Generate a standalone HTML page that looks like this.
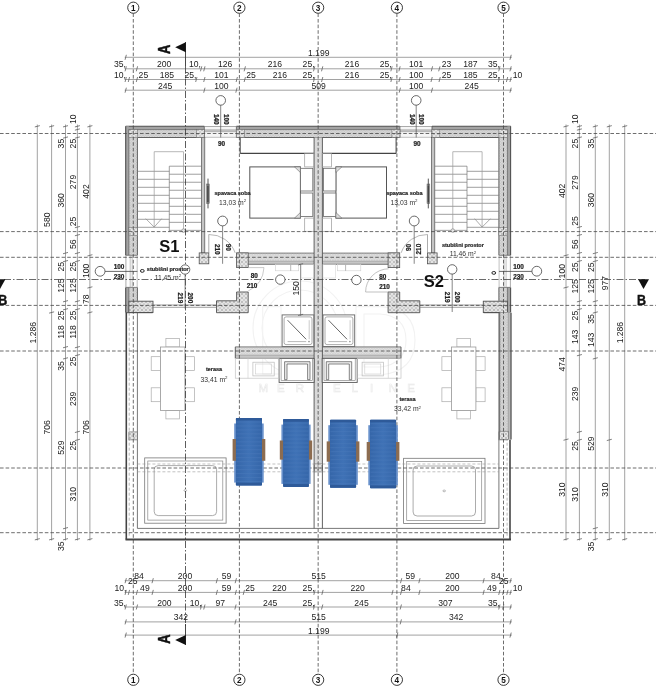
<!DOCTYPE html>
<html><head><meta charset="utf-8"><title>Floor plan</title>
<style>
html,body{margin:0;padding:0;background:#fff;}
body{width:656px;height:690px;overflow:hidden;font-size:0;line-height:0;}
svg{display:block;position:absolute;left:0;top:0;font-family:"Liberation Sans",sans-serif;will-change:transform;transform:translateZ(0);}
</style></head><body>
<svg width="656" height="690" viewBox="0 0 656 690">
<rect width="656" height="690" fill="#ffffff"/>
<defs>
<pattern id="h" width="2.6" height="2.6" patternUnits="userSpaceOnUse"><rect width="2.6" height="2.6" fill="#e0e0e0"/><path d="M0,0 L2.6,2.6 M2.6,0 L0,2.6" stroke="#c6c6c6" stroke-width="0.45"/></pattern>
<pattern id="ho" width="2.6" height="2.6" patternUnits="userSpaceOnUse"><rect width="2.6" height="2.6" fill="#d8d8d8"/><path d="M0,0 L2.6,2.6 M2.6,0 L0,2.6" stroke="#bcbcbc" stroke-width="0.45"/></pattern>
<pattern id="hx" width="4" height="4" patternUnits="userSpaceOnUse"><rect width="4" height="4" fill="#e4e4e4"/><path d="M0.4,0.4 L3.6,3.6 M3.6,0.4 L0.4,3.6" stroke="#9c9c9c" stroke-width="0.5"/></pattern>
<linearGradient id="lg" x1="0" x2="1" y1="0" y2="0"><stop offset="0" stop-color="#3566a9"/><stop offset="0.5" stop-color="#3f72b6"/><stop offset="1" stop-color="#3566a9"/></linearGradient>
</defs>
<g fill="none" stroke="#f2f2f2" stroke-width="1.1">
<circle cx="300" cy="328" r="47"/>
<circle cx="300" cy="328" r="38"/>
<path d="M262.7,306.6 L262.7,374 L281,374 L281,306.6 Z"/>
<path d="M356,306.6 L356,375 L380,375 Q415,372 415,340 Q415,308 380,306.6 Z"/>
<path d="M364,314 L364,367 L380,367 Q406,364 406,340 Q406,316 380,314 Z"/>
</g>
<text x="258.5" y="391.8" font-size="11.5" fill="none" stroke="#e9e9e9" stroke-width="0.6">M</text>
<text x="277.1" y="391.8" font-size="11.5" fill="none" stroke="#e9e9e9" stroke-width="0.6">E</text>
<text x="295.7" y="391.8" font-size="11.5" fill="none" stroke="#e9e9e9" stroke-width="0.6">R</text>
<text x="314.3" y="391.8" font-size="11.5" fill="none" stroke="#e9e9e9" stroke-width="0.6">K</text>
<text x="332.9" y="391.8" font-size="11.5" fill="none" stroke="#e9e9e9" stroke-width="0.6">E</text>
<text x="351.5" y="391.8" font-size="11.5" fill="none" stroke="#e9e9e9" stroke-width="0.6">L</text>
<text x="370.1" y="391.8" font-size="11.5" fill="none" stroke="#e9e9e9" stroke-width="0.6">I</text>
<text x="388.7" y="391.8" font-size="11.5" fill="none" stroke="#e9e9e9" stroke-width="0.6">N</text>
<text x="407.3" y="391.8" font-size="11.5" fill="none" stroke="#e9e9e9" stroke-width="0.6">E</text>
<rect x="125.7" y="126.3" width="78.6" height="11.2" fill="url(#ho)"/>
<rect x="236.4" y="126.3" width="163.4" height="11.2" fill="url(#ho)"/>
<rect x="431.9" y="126.3" width="78.8" height="11.2" fill="url(#ho)"/>
<rect x="125.7" y="126.3" width="11.7" height="129" fill="url(#ho)"/>
<rect x="125.7" y="287.4" width="11.7" height="25.2" fill="url(#ho)"/>
<rect x="498.9" y="126.3" width="11.7" height="129" fill="url(#ho)"/>
<rect x="498.9" y="287.4" width="11.7" height="25.2" fill="url(#ho)"/>
<rect x="125.7" y="126.3" width="78.6" height="3.3" fill="#a4a4a4"/>
<line x1="125.7" y1="126.3" x2="204.3" y2="126.3" stroke="#505050" stroke-width="1.1"/>
<line x1="128.9" y1="129.6" x2="204.3" y2="129.6" stroke="#505050" stroke-width="0.6"/>
<line x1="137.4" y1="137.5" x2="204.3" y2="137.5" stroke="#505050" stroke-width="0.9"/>
<rect x="236.4" y="126.3" width="163.4" height="3.3" fill="#a4a4a4"/>
<line x1="236.4" y1="126.3" x2="399.8" y2="126.3" stroke="#505050" stroke-width="1.1"/>
<line x1="236.4" y1="129.6" x2="399.8" y2="129.6" stroke="#505050" stroke-width="0.6"/>
<line x1="236.4" y1="137.5" x2="399.8" y2="137.5" stroke="#505050" stroke-width="0.9"/>
<rect x="431.9" y="126.3" width="78.8" height="3.3" fill="#a4a4a4"/>
<line x1="431.9" y1="126.3" x2="510.7" y2="126.3" stroke="#505050" stroke-width="1.1"/>
<line x1="431.9" y1="129.6" x2="507.4" y2="129.6" stroke="#505050" stroke-width="0.6"/>
<line x1="431.9" y1="137.5" x2="498.9" y2="137.5" stroke="#505050" stroke-width="0.9"/>
<rect x="125.7" y="126.3" width="3.2" height="129" fill="#a4a4a4"/>
<line x1="125.7" y1="126.3" x2="125.7" y2="255.3" stroke="#505050" stroke-width="1.1"/>
<line x1="128.9" y1="129.6" x2="128.9" y2="255.3" stroke="#505050" stroke-width="0.6"/>
<line x1="137.4" y1="137.5" x2="137.4" y2="255.3" stroke="#505050" stroke-width="0.9"/>
<rect x="125.7" y="287.4" width="3.2" height="25.2" fill="#a4a4a4"/>
<line x1="125.7" y1="287.4" x2="125.7" y2="312.6" stroke="#505050" stroke-width="1.1"/>
<line x1="128.9" y1="287.4" x2="128.9" y2="312.6" stroke="#505050" stroke-width="0.6"/>
<line x1="137.4" y1="287.4" x2="137.4" y2="300.8" stroke="#505050" stroke-width="0.9"/>
<rect x="125.7" y="255.3" width="11.7" height="32.1" fill="#fdfdfd"/>
<line x1="125.7" y1="255.3" x2="137.4" y2="255.3" stroke="#505050" stroke-width="0.7"/>
<line x1="125.7" y1="287.4" x2="137.4" y2="287.4" stroke="#505050" stroke-width="0.7"/>
<line x1="125.9" y1="255.3" x2="125.9" y2="287.4" stroke="#888" stroke-width="0.7"/>
<line x1="130.2" y1="255.3" x2="130.2" y2="287.4" stroke="#999" stroke-width="0.6"/>
<line x1="132.2" y1="255.3" x2="132.2" y2="287.4" stroke="#999" stroke-width="0.6"/>
<line x1="137.2" y1="255.3" x2="137.2" y2="287.4" stroke="#999" stroke-width="0.6"/>
<rect x="128.9" y="129.6" width="8.5" height="7.9" fill="url(#hx)" stroke="#666" stroke-width="0.5"/>
<rect x="128.9" y="227.6" width="8.5" height="8" fill="url(#hx)" stroke="#666" stroke-width="0.5"/>
<rect x="204.3" y="126.3" width="32.1" height="11.2" fill="#f6f6f6"/>
<line x1="204.3" y1="126.5" x2="236.4" y2="126.5" stroke="#888" stroke-width="0.7"/>
<rect x="204.3" y="129.8" width="32.1" height="1.9" fill="#c8c8c8"/>
<line x1="204.3" y1="129.8" x2="236.4" y2="129.8" stroke="#999" stroke-width="0.6"/>
<line x1="204.3" y1="131.7" x2="236.4" y2="131.7" stroke="#999" stroke-width="0.6"/>
<line x1="204.3" y1="137.3" x2="236.4" y2="137.3" stroke="#999" stroke-width="0.6"/>
<line x1="204.3" y1="126.3" x2="204.3" y2="137.5" stroke="#505050" stroke-width="0.8"/>
<line x1="236.4" y1="126.3" x2="236.4" y2="137.5" stroke="#505050" stroke-width="0.8"/>
<rect x="201.5" y="137.5" width="3.3" height="115.4" fill="#c4c4c4" stroke="#505050" stroke-width="0.7"/>
<rect x="199.2" y="252.9" width="9.6" height="10.9" fill="url(#hx)" stroke="#505050" stroke-width="0.8"/>
<rect x="196.5" y="129.6" width="7.8" height="7.9" fill="url(#hx)" stroke="#666" stroke-width="0.5"/>
<rect x="236.4" y="129.6" width="8" height="7.9" fill="url(#hx)" stroke="#666" stroke-width="0.5"/>
<rect x="236.6" y="253.1" width="77.5" height="11.2" fill="url(#h)"/>
<line x1="236.6" y1="253.1" x2="314.1" y2="253.1" stroke="#606060" stroke-width="0.8"/>
<rect x="248.2" y="261.2" width="65.9" height="3.1" fill="#c6c6c6"/>
<line x1="248.2" y1="261.2" x2="314.1" y2="261.2" stroke="#888" stroke-width="0.5"/>
<line x1="248.2" y1="264.3" x2="314.1" y2="264.3" stroke="#606060" stroke-width="0.8"/>
<rect x="236.6" y="252.9" width="11.6" height="14.7" fill="url(#hx)" stroke="#505050" stroke-width="0.8"/>
<path d="M236.6,292 L248.2,292 L248.2,312.7 L216.5,312.7 L216.5,300.8 L236.6,300.8 Z" fill="url(#hx)" stroke="#505050" stroke-width="0.9"/>
<rect x="128.9" y="301.2" width="24.1" height="11.3" fill="url(#hx)" stroke="#505050" stroke-width="0.9"/>
<line x1="125.7" y1="312.7" x2="152.7" y2="312.7" stroke="#505050" stroke-width="1.0"/>
<line x1="152.7" y1="305" x2="216.5" y2="305" stroke="#777" stroke-width="0.7"/>
<line x1="152.7" y1="307.3" x2="216.5" y2="307.3" stroke="#777" stroke-width="0.7"/>
<rect x="235.3" y="346.9" width="78.8" height="11.5" fill="url(#h)"/>
<line x1="235.3" y1="346.9" x2="314.1" y2="346.9" stroke="#606060" stroke-width="0.8"/>
<rect x="235.3" y="355.2" width="78.8" height="3.2" fill="#c6c6c6"/>
<line x1="235.3" y1="355.2" x2="314.1" y2="355.2" stroke="#888" stroke-width="0.5"/>
<line x1="235.3" y1="358.4" x2="314.1" y2="358.4" stroke="#606060" stroke-width="0.8"/>
<line x1="235.3" y1="346.9" x2="235.3" y2="358.4" stroke="#505050" stroke-width="0.9"/>
<rect x="507.4" y="126.3" width="3.2" height="129" fill="#a4a4a4"/>
<line x1="510.6" y1="126.3" x2="510.6" y2="255.3" stroke="#505050" stroke-width="1.1"/>
<line x1="507.4" y1="129.6" x2="507.4" y2="255.3" stroke="#505050" stroke-width="0.6"/>
<line x1="498.9" y1="137.5" x2="498.9" y2="255.3" stroke="#505050" stroke-width="0.9"/>
<rect x="507.4" y="287.4" width="3.2" height="25.2" fill="#a4a4a4"/>
<line x1="510.6" y1="287.4" x2="510.6" y2="312.6" stroke="#505050" stroke-width="1.1"/>
<line x1="507.4" y1="287.4" x2="507.4" y2="312.6" stroke="#505050" stroke-width="0.6"/>
<line x1="498.9" y1="287.4" x2="498.9" y2="300.8" stroke="#505050" stroke-width="0.9"/>
<rect x="498.9" y="255.3" width="11.7" height="32.1" fill="#fdfdfd"/>
<line x1="510.6" y1="255.3" x2="498.9" y2="255.3" stroke="#505050" stroke-width="0.7"/>
<line x1="510.6" y1="287.4" x2="498.9" y2="287.4" stroke="#505050" stroke-width="0.7"/>
<line x1="510.4" y1="255.3" x2="510.4" y2="287.4" stroke="#888" stroke-width="0.7"/>
<line x1="506.1" y1="255.3" x2="506.1" y2="287.4" stroke="#999" stroke-width="0.6"/>
<line x1="504.1" y1="255.3" x2="504.1" y2="287.4" stroke="#999" stroke-width="0.6"/>
<line x1="499.1" y1="255.3" x2="499.1" y2="287.4" stroke="#999" stroke-width="0.6"/>
<rect x="498.9" y="129.6" width="8.5" height="7.9" fill="url(#hx)" stroke="#666" stroke-width="0.5"/>
<rect x="498.9" y="227.6" width="8.5" height="8" fill="url(#hx)" stroke="#666" stroke-width="0.5"/>
<rect x="399.9" y="126.3" width="32.1" height="11.2" fill="#f6f6f6"/>
<line x1="432" y1="126.5" x2="399.9" y2="126.5" stroke="#888" stroke-width="0.7"/>
<rect x="399.9" y="129.8" width="32.1" height="1.9" fill="#c8c8c8"/>
<line x1="432" y1="129.8" x2="399.9" y2="129.8" stroke="#999" stroke-width="0.6"/>
<line x1="432" y1="131.7" x2="399.9" y2="131.7" stroke="#999" stroke-width="0.6"/>
<line x1="432" y1="137.3" x2="399.9" y2="137.3" stroke="#999" stroke-width="0.6"/>
<line x1="432" y1="126.3" x2="432" y2="137.5" stroke="#505050" stroke-width="0.8"/>
<line x1="399.9" y1="126.3" x2="399.9" y2="137.5" stroke="#505050" stroke-width="0.8"/>
<rect x="431.5" y="137.5" width="3.3" height="115.4" fill="#c4c4c4" stroke="#505050" stroke-width="0.7"/>
<rect x="427.5" y="252.9" width="9.6" height="10.9" fill="url(#hx)" stroke="#505050" stroke-width="0.8"/>
<rect x="432" y="129.6" width="7.8" height="7.9" fill="url(#hx)" stroke="#666" stroke-width="0.5"/>
<rect x="391.9" y="129.6" width="8" height="7.9" fill="url(#hx)" stroke="#666" stroke-width="0.5"/>
<rect x="322.2" y="253.1" width="77.5" height="11.2" fill="url(#h)"/>
<line x1="399.7" y1="253.1" x2="322.2" y2="253.1" stroke="#606060" stroke-width="0.8"/>
<rect x="322.2" y="261.2" width="65.9" height="3.1" fill="#c6c6c6"/>
<line x1="388.1" y1="261.2" x2="322.2" y2="261.2" stroke="#888" stroke-width="0.5"/>
<line x1="388.1" y1="264.3" x2="322.2" y2="264.3" stroke="#606060" stroke-width="0.8"/>
<rect x="388.1" y="252.9" width="11.6" height="14.7" fill="url(#hx)" stroke="#505050" stroke-width="0.8"/>
<path d="M399.7,292 L388.1,292 L388.1,312.7 L419.8,312.7 L419.8,300.8 L399.7,300.8 Z" fill="url(#hx)" stroke="#505050" stroke-width="0.9"/>
<rect x="483.3" y="301.2" width="24.1" height="11.3" fill="url(#hx)" stroke="#505050" stroke-width="0.9"/>
<line x1="510.6" y1="312.7" x2="483.6" y2="312.7" stroke="#505050" stroke-width="1.0"/>
<line x1="483.6" y1="305" x2="419.8" y2="305" stroke="#777" stroke-width="0.7"/>
<line x1="483.6" y1="307.3" x2="419.8" y2="307.3" stroke="#777" stroke-width="0.7"/>
<rect x="322.2" y="346.9" width="78.8" height="11.5" fill="url(#h)"/>
<line x1="401" y1="346.9" x2="322.2" y2="346.9" stroke="#606060" stroke-width="0.8"/>
<rect x="322.2" y="355.2" width="78.8" height="3.2" fill="#c6c6c6"/>
<line x1="401" y1="355.2" x2="322.2" y2="355.2" stroke="#888" stroke-width="0.5"/>
<line x1="401" y1="358.4" x2="322.2" y2="358.4" stroke="#606060" stroke-width="0.8"/>
<line x1="401" y1="346.9" x2="401" y2="358.4" stroke="#505050" stroke-width="0.9"/>
<rect x="314.1" y="137.5" width="8.3" height="326.3" fill="url(#h)"/>
<rect x="314.1" y="463.8" width="8.3" height="64.6" fill="#fff"/>
<rect x="314.1" y="463.8" width="8.3" height="8.2" fill="url(#hx)" stroke="#777" stroke-width="0.5"/>
<line x1="314.1" y1="137.5" x2="314.1" y2="528.4" stroke="#505050" stroke-width="0.9"/>
<line x1="322.4" y1="137.5" x2="322.4" y2="528.4" stroke="#505050" stroke-width="0.9"/>
<line x1="126.3" y1="312.7" x2="126.3" y2="539.5" stroke="#444" stroke-width="1.6"/>
<line x1="137.4" y1="312.7" x2="137.4" y2="528.4" stroke="#555" stroke-width="0.8"/>
<line x1="129.2" y1="312.7" x2="129.2" y2="536" stroke="#888" stroke-width="0.6" stroke-dasharray="3 2"/>
<line x1="137.4" y1="528.4" x2="318.2" y2="528.4" stroke="#555" stroke-width="0.8"/>
<rect x="128.9" y="431.9" width="8.5" height="8" fill="url(#hx)" stroke="#666" stroke-width="0.6"/>
<line x1="510" y1="312.7" x2="510" y2="539.5" stroke="#444" stroke-width="1.6"/>
<line x1="498.9" y1="312.7" x2="498.9" y2="528.4" stroke="#555" stroke-width="0.8"/>
<line x1="507.1" y1="312.7" x2="507.1" y2="536" stroke="#888" stroke-width="0.6" stroke-dasharray="3 2"/>
<line x1="498.9" y1="528.4" x2="318.1" y2="528.4" stroke="#555" stroke-width="0.8"/>
<rect x="498.9" y="431.9" width="8.5" height="8" fill="url(#hx)" stroke="#666" stroke-width="0.6"/>
<rect x="499.7" y="312.7" width="11.6" height="126.8" fill="#fff"/>
<rect x="499.7" y="312.7" width="8.6" height="126.8" fill="url(#ho)"/>
<rect x="508.3" y="312.7" width="3" height="126.8" fill="#bcbcbc"/>
<line x1="499.7" y1="312.7" x2="499.7" y2="439.5" stroke="#505050" stroke-width="0.9"/>
<line x1="508.3" y1="312.7" x2="508.3" y2="439.5" stroke="#777" stroke-width="0.5"/>
<line x1="511" y1="312.7" x2="511" y2="439.5" stroke="#505050" stroke-width="1.2"/>
<rect x="499.7" y="431.2" width="8.6" height="8.3" fill="url(#hx)" stroke="#666" stroke-width="0.6"/>
<line x1="125.5" y1="539.5" x2="511" y2="539.5" stroke="#444" stroke-width="1.8"/>
<line x1="240.2" y1="137.5" x2="240.2" y2="153.4" stroke="#444" stroke-width="1.0"/>
<line x1="240.2" y1="153.4" x2="314.1" y2="153.4" stroke="#444" stroke-width="1.3"/>
<rect x="304.7" y="153.4" width="9.4" height="13.5" fill="none" stroke="#999" stroke-width="0.7"/>
<rect x="304.7" y="218.1" width="9.4" height="13.2" fill="none" stroke="#999" stroke-width="0.7"/>
<rect x="249.8" y="166.9" width="50.6" height="51.2" fill="#fff" stroke="#555" stroke-width="1.0"/>
<rect x="300.4" y="168.3" width="12.4" height="22.7" fill="#fff" stroke="#666" stroke-width="0.8"/>
<rect x="300.4" y="193" width="12.4" height="23.4" fill="#fff" stroke="#666" stroke-width="0.8"/>
<path d="M294.5,166.9 L300.4,172.5 L300.4,166.9 Z" fill="#ddd" stroke="#666" stroke-width="0.6"/>
<path d="M294.5,218.1 L300.4,212.5 L300.4,218.1 Z" fill="#ddd" stroke="#666" stroke-width="0.6"/>
<rect x="206.5" y="184" width="2.8" height="19.5" fill="#a0a0a0" stroke="#6a6a6a" stroke-width="0.5"/>
<line x1="208" y1="178.6" x2="208" y2="208.4" stroke="#444" stroke-width="0.9"/>
<line x1="207.9" y1="186" x2="207.9" y2="202" stroke="#444" stroke-width="1.3"/>
<line x1="169.3" y1="166.2" x2="201.5" y2="166.2" stroke="#777" stroke-width="0.7"/>
<line x1="169.3" y1="174.22" x2="201.5" y2="174.22" stroke="#777" stroke-width="0.7"/>
<line x1="169.3" y1="182.24" x2="201.5" y2="182.24" stroke="#777" stroke-width="0.7"/>
<line x1="169.3" y1="190.26" x2="201.5" y2="190.26" stroke="#777" stroke-width="0.7"/>
<line x1="169.3" y1="198.28" x2="201.5" y2="198.28" stroke="#777" stroke-width="0.7"/>
<line x1="169.3" y1="206.3" x2="201.5" y2="206.3" stroke="#777" stroke-width="0.7"/>
<line x1="169.3" y1="214.32" x2="201.5" y2="214.32" stroke="#777" stroke-width="0.7"/>
<line x1="169.3" y1="222.34" x2="201.5" y2="222.34" stroke="#777" stroke-width="0.7"/>
<line x1="169.3" y1="230.36" x2="201.5" y2="230.36" stroke="#777" stroke-width="0.7"/>
<line x1="169.3" y1="166.2" x2="169.3" y2="231.6" stroke="#777" stroke-width="0.7"/>
<line x1="137.4" y1="171.3" x2="169.3" y2="171.3" stroke="#777" stroke-width="0.7"/>
<line x1="137.4" y1="179.3" x2="169.3" y2="179.3" stroke="#777" stroke-width="0.7"/>
<line x1="137.4" y1="187.3" x2="169.3" y2="187.3" stroke="#777" stroke-width="0.7"/>
<line x1="137.4" y1="195.3" x2="169.3" y2="195.3" stroke="#777" stroke-width="0.7"/>
<line x1="137.4" y1="203.3" x2="169.3" y2="203.3" stroke="#777" stroke-width="0.7"/>
<line x1="137.4" y1="211.3" x2="169.3" y2="211.3" stroke="#777" stroke-width="0.7"/>
<line x1="137.4" y1="219.3" x2="169.3" y2="219.3" stroke="#777" stroke-width="0.7"/>
<line x1="137.4" y1="227.3" x2="169.3" y2="227.3" stroke="#777" stroke-width="0.7"/>
<path d="M183.5,230.3 L183.5,151.7 L154.2,151.7 L154.2,227.1" fill="none" stroke="#999" stroke-width="0.7"/>
<path d="M145.7,218.6 L154.2,227.1 L161.7,218.6" fill="none" stroke="#888" stroke-width="0.7"/>
<circle cx="183.5" cy="230.6" r="1.8" fill="#e8e8e8" stroke="#888" stroke-width="0.7"/>
<rect x="282.1" y="314.9" width="31.7" height="31.6" fill="#fff" stroke="#666" stroke-width="0.9"/>
<rect x="284.1" y="316.9" width="27.9" height="27.7" fill="#fff" stroke="#888" stroke-width="0.7" rx="2"/>
<line x1="287.6" y1="320.2" x2="306.2" y2="339.3" stroke="#555" stroke-width="0.9"/>
<line x1="287.6" y1="341.6" x2="306.2" y2="341.6" stroke="#888" stroke-width="0.6"/>
<line x1="309.2" y1="320.2" x2="309.2" y2="339.3" stroke="#aaa" stroke-width="0.6"/>
<circle cx="309" cy="341.6" r="0.8" fill="#888" stroke="none" stroke-width="0"/>
<rect x="279.1" y="358.4" width="35" height="24" fill="#fff" stroke="#555" stroke-width="0.9"/>
<rect x="281.1" y="358.4" width="31.2" height="22.1" fill="none" stroke="#777" stroke-width="0.6"/>
<path d="M284.6,379.7 L284.6,361.7 L310,361.7 L310,379.7 L307.6,379.7 L307.6,364 L287,364 L287,379.7 Z" fill="#eee" stroke="#555" stroke-width="0.7"/>
<rect x="235.3" y="358.4" width="43.8" height="19.8" fill="none" stroke="#c4c4c4" stroke-width="0.7"/>
<rect x="252.9" y="362.2" width="21.3" height="13.7" fill="none" stroke="#bbb" stroke-width="0.7"/>
<rect x="255.5" y="364" width="16" height="10" fill="none" stroke="#ccc" stroke-width="0.6"/>
<line x1="248" y1="358.4" x2="248" y2="378.2" stroke="#ccc" stroke-width="0.6"/>
<rect x="275.5" y="264.3" width="23.2" height="6.5" fill="none" stroke="#cfcfcf" stroke-width="0.6"/>
<line x1="290.7" y1="264.8" x2="290.7" y2="270.8" stroke="#999" stroke-width="0.7"/>
<rect x="301" y="264.3" width="12.3" height="13.7" fill="none" stroke="#d8d8d8" stroke-width="0.6"/>
<rect x="165.9" y="338.6" width="13.5" height="8.4" fill="#fff" stroke="#aaa" stroke-width="0.7"/>
<rect x="165.9" y="410.5" width="13.5" height="8.4" fill="#fff" stroke="#aaa" stroke-width="0.7"/>
<rect x="151.2" y="356.7" width="9.2" height="13.9" fill="#fff" stroke="#aaa" stroke-width="0.7"/>
<rect x="184.9" y="356.7" width="9.5" height="13.9" fill="#fff" stroke="#aaa" stroke-width="0.7"/>
<rect x="151.2" y="387.8" width="9.2" height="13.9" fill="#fff" stroke="#aaa" stroke-width="0.7"/>
<rect x="184.9" y="387.8" width="9.5" height="13.9" fill="#fff" stroke="#aaa" stroke-width="0.7"/>
<rect x="160.4" y="347" width="24.5" height="63.5" fill="#fff" stroke="#999" stroke-width="0.8"/>
<rect x="144.7" y="457.9" width="81.4" height="65.3" fill="#fff" stroke="#777" stroke-width="0.8"/>
<rect x="147.8" y="461" width="75" height="59.1" fill="none" stroke="#888" stroke-width="0.7"/>
<rect x="154.2" y="465.6" width="62.4" height="50" fill="none" stroke="#888" stroke-width="0.7" rx="4"/>
<ellipse cx="185.3" cy="490.5" rx="1.3" ry="0.9" fill="none" stroke="#777" stroke-width="0.5"/>
<line x1="396.1" y1="137.5" x2="396.1" y2="153.4" stroke="#444" stroke-width="1.0"/>
<line x1="396.1" y1="153.4" x2="322.2" y2="153.4" stroke="#444" stroke-width="1.3"/>
<rect x="322.2" y="153.4" width="9.4" height="13.5" fill="none" stroke="#999" stroke-width="0.7"/>
<rect x="322.2" y="218.1" width="9.4" height="13.2" fill="none" stroke="#999" stroke-width="0.7"/>
<rect x="335.9" y="166.9" width="50.6" height="51.2" fill="#fff" stroke="#555" stroke-width="1.0"/>
<rect x="323.5" y="168.3" width="12.4" height="22.7" fill="#fff" stroke="#666" stroke-width="0.8"/>
<rect x="323.5" y="193" width="12.4" height="23.4" fill="#fff" stroke="#666" stroke-width="0.8"/>
<path d="M341.8,166.9 L335.9,172.5 L335.9,166.9 Z" fill="#ddd" stroke="#666" stroke-width="0.6"/>
<path d="M341.8,218.1 L335.9,212.5 L335.9,218.1 Z" fill="#ddd" stroke="#666" stroke-width="0.6"/>
<rect x="427" y="184" width="2.8" height="19.5" fill="#a0a0a0" stroke="#6a6a6a" stroke-width="0.5"/>
<line x1="428.3" y1="178.6" x2="428.3" y2="208.4" stroke="#444" stroke-width="0.9"/>
<line x1="428.4" y1="186" x2="428.4" y2="202" stroke="#444" stroke-width="1.3"/>
<line x1="467" y1="166.2" x2="434.8" y2="166.2" stroke="#777" stroke-width="0.7"/>
<line x1="467" y1="174.22" x2="434.8" y2="174.22" stroke="#777" stroke-width="0.7"/>
<line x1="467" y1="182.24" x2="434.8" y2="182.24" stroke="#777" stroke-width="0.7"/>
<line x1="467" y1="190.26" x2="434.8" y2="190.26" stroke="#777" stroke-width="0.7"/>
<line x1="467" y1="198.28" x2="434.8" y2="198.28" stroke="#777" stroke-width="0.7"/>
<line x1="467" y1="206.3" x2="434.8" y2="206.3" stroke="#777" stroke-width="0.7"/>
<line x1="467" y1="214.32" x2="434.8" y2="214.32" stroke="#777" stroke-width="0.7"/>
<line x1="467" y1="222.34" x2="434.8" y2="222.34" stroke="#777" stroke-width="0.7"/>
<line x1="467" y1="230.36" x2="434.8" y2="230.36" stroke="#777" stroke-width="0.7"/>
<line x1="467" y1="166.2" x2="467" y2="231.6" stroke="#777" stroke-width="0.7"/>
<line x1="498.9" y1="171.3" x2="467" y2="171.3" stroke="#777" stroke-width="0.7"/>
<line x1="498.9" y1="179.3" x2="467" y2="179.3" stroke="#777" stroke-width="0.7"/>
<line x1="498.9" y1="187.3" x2="467" y2="187.3" stroke="#777" stroke-width="0.7"/>
<line x1="498.9" y1="195.3" x2="467" y2="195.3" stroke="#777" stroke-width="0.7"/>
<line x1="498.9" y1="203.3" x2="467" y2="203.3" stroke="#777" stroke-width="0.7"/>
<line x1="498.9" y1="211.3" x2="467" y2="211.3" stroke="#777" stroke-width="0.7"/>
<line x1="498.9" y1="219.3" x2="467" y2="219.3" stroke="#777" stroke-width="0.7"/>
<line x1="498.9" y1="227.3" x2="467" y2="227.3" stroke="#777" stroke-width="0.7"/>
<path d="M452.8,230.3 L452.8,151.7 L482.1,151.7 L482.1,227.1" fill="none" stroke="#999" stroke-width="0.7"/>
<path d="M490.6,218.6 L482.1,227.1 L474.6,218.6" fill="none" stroke="#888" stroke-width="0.7"/>
<circle cx="452.8" cy="230.6" r="1.8" fill="#e8e8e8" stroke="#888" stroke-width="0.7"/>
<rect x="323" y="314.9" width="31.7" height="31.6" fill="#fff" stroke="#666" stroke-width="0.9"/>
<rect x="325" y="316.9" width="27.9" height="27.7" fill="#fff" stroke="#888" stroke-width="0.7" rx="2"/>
<line x1="328.5" y1="320.2" x2="347.1" y2="339.3" stroke="#555" stroke-width="0.9"/>
<line x1="328.5" y1="341.6" x2="347.1" y2="341.6" stroke="#888" stroke-width="0.6"/>
<line x1="350.1" y1="320.2" x2="350.1" y2="339.3" stroke="#aaa" stroke-width="0.6"/>
<circle cx="349.9" cy="341.6" r="0.8" fill="#888" stroke="none" stroke-width="0"/>
<rect x="322.2" y="358.4" width="35" height="24" fill="#fff" stroke="#555" stroke-width="0.9"/>
<rect x="324" y="358.4" width="31.2" height="22.1" fill="none" stroke="#777" stroke-width="0.6"/>
<path d="M351.7,379.7 L351.7,361.7 L326.3,361.7 L326.3,379.7 L328.7,379.7 L328.7,364 L349.3,364 L349.3,379.7 Z" fill="#eee" stroke="#555" stroke-width="0.7"/>
<rect x="357.2" y="358.4" width="43.8" height="19.8" fill="none" stroke="#c4c4c4" stroke-width="0.7"/>
<rect x="362.1" y="362.2" width="21.3" height="13.7" fill="none" stroke="#bbb" stroke-width="0.7"/>
<rect x="364.8" y="364" width="16" height="10" fill="none" stroke="#ccc" stroke-width="0.6"/>
<line x1="388.3" y1="358.4" x2="388.3" y2="378.2" stroke="#ccc" stroke-width="0.6"/>
<rect x="337.6" y="264.3" width="23.2" height="6.5" fill="none" stroke="#cfcfcf" stroke-width="0.6"/>
<line x1="345.6" y1="264.8" x2="345.6" y2="270.8" stroke="#999" stroke-width="0.7"/>
<rect x="323" y="264.3" width="12.3" height="13.7" fill="none" stroke="#d8d8d8" stroke-width="0.6"/>
<rect x="456.9" y="338.6" width="13.5" height="8.4" fill="#fff" stroke="#aaa" stroke-width="0.7"/>
<rect x="456.9" y="410.5" width="13.5" height="8.4" fill="#fff" stroke="#aaa" stroke-width="0.7"/>
<rect x="475.9" y="356.7" width="9.2" height="13.9" fill="#fff" stroke="#aaa" stroke-width="0.7"/>
<rect x="441.9" y="356.7" width="9.5" height="13.9" fill="#fff" stroke="#aaa" stroke-width="0.7"/>
<rect x="475.9" y="387.8" width="9.2" height="13.9" fill="#fff" stroke="#aaa" stroke-width="0.7"/>
<rect x="441.9" y="387.8" width="9.5" height="13.9" fill="#fff" stroke="#aaa" stroke-width="0.7"/>
<rect x="451.4" y="347" width="24.5" height="63.5" fill="#fff" stroke="#999" stroke-width="0.8"/>
<rect x="403.6" y="458.3" width="81.4" height="65.3" fill="#fff" stroke="#777" stroke-width="0.8"/>
<rect x="406.7" y="461.4" width="75" height="59.1" fill="none" stroke="#888" stroke-width="0.7"/>
<rect x="413.1" y="466" width="62.4" height="50" fill="none" stroke="#888" stroke-width="0.7" rx="4"/>
<ellipse cx="444.2" cy="490.9" rx="1.3" ry="0.9" fill="none" stroke="#777" stroke-width="0.5"/>
<line x1="208.8" y1="234.5" x2="208.8" y2="253" stroke="#888" stroke-width="0.7"/>
<path d="M208.8,234.5 A27.5,27.5 0 0 1 235.2,252.9" fill="none" stroke="#999" stroke-width="0.7"/>
<line x1="248.2" y1="267.6" x2="264" y2="267.6" stroke="#b4b4b4" stroke-width="0.7"/>
<path d="M264,267.6 Q263,284 248.2,291" fill="none" stroke="#b4b4b4" stroke-width="0.7"/>
<line x1="427.5" y1="234.5" x2="427.5" y2="253" stroke="#888" stroke-width="0.7"/>
<path d="M427.5,234.5 A27.5,27.5 0 0 0 401.1,252.9" fill="none" stroke="#999" stroke-width="0.7"/>
<line x1="388.8" y1="292" x2="365.6" y2="292" stroke="#a8a8a8" stroke-width="0.7"/>
<path d="M365.6,292 A23.2,23.2 0 0 1 388.6,268.8" fill="none" stroke="#a8a8a8" stroke-width="0.7"/>
<line x1="124.7" y1="57.3" x2="511.9" y2="57.3" stroke="#7a7a7a" stroke-width="0.7"/>
<line x1="125.05" y1="59.8" x2="126.35" y2="54.8" stroke="#606060" stroke-width="0.8"/>
<line x1="509.93" y1="59.8" x2="511.23" y2="54.8" stroke="#606060" stroke-width="0.8"/>
<line x1="124.7" y1="68.8" x2="511.9" y2="68.8" stroke="#7a7a7a" stroke-width="0.7"/>
<line x1="125.05" y1="71.3" x2="126.35" y2="66.3" stroke="#606060" stroke-width="0.8"/>
<line x1="136.28" y1="71.3" x2="137.59" y2="66.3" stroke="#606060" stroke-width="0.8"/>
<line x1="200.48" y1="71.3" x2="201.78" y2="66.3" stroke="#606060" stroke-width="0.8"/>
<line x1="203.69" y1="71.3" x2="205" y2="66.3" stroke="#606060" stroke-width="0.8"/>
<line x1="244.14" y1="71.3" x2="245.44" y2="66.3" stroke="#606060" stroke-width="0.8"/>
<line x1="313.48" y1="71.3" x2="314.78" y2="66.3" stroke="#606060" stroke-width="0.8"/>
<line x1="321.5" y1="71.3" x2="322.8" y2="66.3" stroke="#606060" stroke-width="0.8"/>
<line x1="390.84" y1="71.3" x2="392.14" y2="66.3" stroke="#606060" stroke-width="0.8"/>
<line x1="398.86" y1="71.3" x2="400.16" y2="66.3" stroke="#606060" stroke-width="0.8"/>
<line x1="431.28" y1="71.3" x2="432.58" y2="66.3" stroke="#606060" stroke-width="0.8"/>
<line x1="438.67" y1="71.3" x2="439.97" y2="66.3" stroke="#606060" stroke-width="0.8"/>
<line x1="498.69" y1="71.3" x2="499.99" y2="66.3" stroke="#606060" stroke-width="0.8"/>
<line x1="509.93" y1="71.3" x2="511.23" y2="66.3" stroke="#606060" stroke-width="0.8"/>
<line x1="124.7" y1="79.5" x2="511.9" y2="79.5" stroke="#7a7a7a" stroke-width="0.7"/>
<line x1="125.05" y1="82" x2="126.35" y2="77" stroke="#606060" stroke-width="0.8"/>
<line x1="128.26" y1="82" x2="129.56" y2="77" stroke="#606060" stroke-width="0.8"/>
<line x1="136.28" y1="82" x2="137.59" y2="77" stroke="#606060" stroke-width="0.8"/>
<line x1="195.67" y1="82" x2="196.97" y2="77" stroke="#606060" stroke-width="0.8"/>
<line x1="203.69" y1="82" x2="205" y2="77" stroke="#606060" stroke-width="0.8"/>
<line x1="236.12" y1="82" x2="237.42" y2="77" stroke="#606060" stroke-width="0.8"/>
<line x1="244.14" y1="82" x2="245.44" y2="77" stroke="#606060" stroke-width="0.8"/>
<line x1="313.48" y1="82" x2="314.78" y2="77" stroke="#606060" stroke-width="0.8"/>
<line x1="321.5" y1="82" x2="322.8" y2="77" stroke="#606060" stroke-width="0.8"/>
<line x1="390.84" y1="82" x2="392.14" y2="77" stroke="#606060" stroke-width="0.8"/>
<line x1="398.86" y1="82" x2="400.16" y2="77" stroke="#606060" stroke-width="0.8"/>
<line x1="430.96" y1="82" x2="432.26" y2="77" stroke="#606060" stroke-width="0.8"/>
<line x1="438.99" y1="82" x2="440.29" y2="77" stroke="#606060" stroke-width="0.8"/>
<line x1="498.37" y1="82" x2="499.67" y2="77" stroke="#606060" stroke-width="0.8"/>
<line x1="506.4" y1="82" x2="507.7" y2="77" stroke="#606060" stroke-width="0.8"/>
<line x1="509.93" y1="82" x2="511.23" y2="77" stroke="#606060" stroke-width="0.8"/>
<line x1="124.7" y1="90.2" x2="511.9" y2="90.2" stroke="#7a7a7a" stroke-width="0.7"/>
<line x1="125.05" y1="92.7" x2="126.35" y2="87.7" stroke="#606060" stroke-width="0.8"/>
<line x1="203.69" y1="92.7" x2="205" y2="87.7" stroke="#606060" stroke-width="0.8"/>
<line x1="235.79" y1="92.7" x2="237.09" y2="87.7" stroke="#606060" stroke-width="0.8"/>
<line x1="399.18" y1="92.7" x2="400.48" y2="87.7" stroke="#606060" stroke-width="0.8"/>
<line x1="431.28" y1="92.7" x2="432.58" y2="87.7" stroke="#606060" stroke-width="0.8"/>
<line x1="509.93" y1="92.7" x2="511.23" y2="87.7" stroke="#606060" stroke-width="0.8"/>
<text x="318.7" y="55.8" font-size="8.6" fill="#222" text-anchor="middle">1.199</text>
<text x="119.9" y="67.3" font-size="8.6" fill="#222" text-anchor="middle">35,</text>
<text x="164.1" y="67.3" font-size="8.6" fill="#222" text-anchor="middle">200</text>
<text x="195" y="67.3" font-size="8.6" fill="#222" text-anchor="middle">10,</text>
<text x="225.1" y="67.3" font-size="8.6" fill="#222" text-anchor="middle">126</text>
<text x="274.9" y="67.3" font-size="8.6" fill="#222" text-anchor="middle">216</text>
<text x="308.6" y="67.3" font-size="8.6" fill="#222" text-anchor="middle">25,</text>
<text x="352" y="67.3" font-size="8.6" fill="#222" text-anchor="middle">216</text>
<text x="385.7" y="67.3" font-size="8.6" fill="#222" text-anchor="middle">25,</text>
<text x="416.2" y="67.3" font-size="8.6" fill="#222" text-anchor="middle">101</text>
<text x="446.5" y="67.3" font-size="8.6" fill="#222" text-anchor="middle">23</text>
<text x="470.4" y="67.3" font-size="8.6" fill="#222" text-anchor="middle">187</text>
<text x="493.9" y="67.3" font-size="8.6" fill="#222" text-anchor="middle">35,</text>
<text x="120" y="78" font-size="8.6" fill="#222" text-anchor="middle">10,</text>
<text x="143.4" y="78" font-size="8.6" fill="#222" text-anchor="middle">25</text>
<text x="166.9" y="78" font-size="8.6" fill="#222" text-anchor="middle">185</text>
<text x="190.4" y="78" font-size="8.6" fill="#222" text-anchor="middle">25,</text>
<text x="221.3" y="78" font-size="8.6" fill="#222" text-anchor="middle">101</text>
<text x="251" y="78" font-size="8.6" fill="#222" text-anchor="middle">25</text>
<text x="279.8" y="78" font-size="8.6" fill="#222" text-anchor="middle">216</text>
<text x="308.6" y="78" font-size="8.6" fill="#222" text-anchor="middle">25,</text>
<text x="352" y="78" font-size="8.6" fill="#222" text-anchor="middle">216</text>
<text x="385.7" y="78" font-size="8.6" fill="#222" text-anchor="middle">25,</text>
<text x="416.2" y="78" font-size="8.6" fill="#222" text-anchor="middle">100</text>
<text x="446.5" y="78" font-size="8.6" fill="#222" text-anchor="middle">25</text>
<text x="470.4" y="78" font-size="8.6" fill="#222" text-anchor="middle">185</text>
<text x="493.9" y="78" font-size="8.6" fill="#222" text-anchor="middle">25,</text>
<text x="517.5" y="78" font-size="8.6" fill="#222" text-anchor="middle">10</text>
<text x="165.2" y="88.7" font-size="8.6" fill="#222" text-anchor="middle">245</text>
<text x="221.3" y="88.7" font-size="8.6" fill="#222" text-anchor="middle">100</text>
<text x="318.7" y="88.7" font-size="8.6" fill="#222" text-anchor="middle">509</text>
<text x="416.2" y="88.7" font-size="8.6" fill="#222" text-anchor="middle">100</text>
<text x="471.7" y="88.7" font-size="8.6" fill="#222" text-anchor="middle">245</text>
<line x1="124.7" y1="580.7" x2="511.9" y2="580.7" stroke="#7a7a7a" stroke-width="0.7"/>
<line x1="125.05" y1="583.2" x2="126.35" y2="578.2" stroke="#606060" stroke-width="0.8"/>
<line x1="152.01" y1="583.2" x2="153.31" y2="578.2" stroke="#606060" stroke-width="0.8"/>
<line x1="216.21" y1="583.2" x2="217.51" y2="578.2" stroke="#606060" stroke-width="0.8"/>
<line x1="235.15" y1="583.2" x2="236.45" y2="578.2" stroke="#606060" stroke-width="0.8"/>
<line x1="400.47" y1="583.2" x2="401.77" y2="578.2" stroke="#606060" stroke-width="0.8"/>
<line x1="418.77" y1="583.2" x2="420.06" y2="578.2" stroke="#606060" stroke-width="0.8"/>
<line x1="482.97" y1="583.2" x2="484.26" y2="578.2" stroke="#606060" stroke-width="0.8"/>
<line x1="509.93" y1="583.2" x2="511.23" y2="578.2" stroke="#606060" stroke-width="0.8"/>
<line x1="124.7" y1="592.4" x2="511.9" y2="592.4" stroke="#7a7a7a" stroke-width="0.7"/>
<line x1="125.05" y1="594.9" x2="126.35" y2="589.9" stroke="#606060" stroke-width="0.8"/>
<line x1="128.26" y1="594.9" x2="129.56" y2="589.9" stroke="#606060" stroke-width="0.8"/>
<line x1="136.28" y1="594.9" x2="137.59" y2="589.9" stroke="#606060" stroke-width="0.8"/>
<line x1="152.01" y1="594.9" x2="153.31" y2="589.9" stroke="#606060" stroke-width="0.8"/>
<line x1="216.21" y1="594.9" x2="217.51" y2="589.9" stroke="#606060" stroke-width="0.8"/>
<line x1="235.15" y1="594.9" x2="236.45" y2="589.9" stroke="#606060" stroke-width="0.8"/>
<line x1="243.18" y1="594.9" x2="244.48" y2="589.9" stroke="#606060" stroke-width="0.8"/>
<line x1="313.8" y1="594.9" x2="315.1" y2="589.9" stroke="#606060" stroke-width="0.8"/>
<line x1="321.82" y1="594.9" x2="323.12" y2="589.9" stroke="#606060" stroke-width="0.8"/>
<line x1="391.8" y1="594.9" x2="393.1" y2="589.9" stroke="#606060" stroke-width="0.8"/>
<line x1="400.47" y1="594.9" x2="401.77" y2="589.9" stroke="#606060" stroke-width="0.8"/>
<line x1="418.77" y1="594.9" x2="420.06" y2="589.9" stroke="#606060" stroke-width="0.8"/>
<line x1="482.97" y1="594.9" x2="484.26" y2="589.9" stroke="#606060" stroke-width="0.8"/>
<line x1="498.69" y1="594.9" x2="499.99" y2="589.9" stroke="#606060" stroke-width="0.8"/>
<line x1="502.55" y1="594.9" x2="503.85" y2="589.9" stroke="#606060" stroke-width="0.8"/>
<line x1="506.72" y1="594.9" x2="508.02" y2="589.9" stroke="#606060" stroke-width="0.8"/>
<line x1="509.93" y1="594.9" x2="511.23" y2="589.9" stroke="#606060" stroke-width="0.8"/>
<line x1="124.7" y1="607" x2="511.9" y2="607" stroke="#7a7a7a" stroke-width="0.7"/>
<line x1="125.05" y1="609.5" x2="126.35" y2="604.5" stroke="#606060" stroke-width="0.8"/>
<line x1="136.28" y1="609.5" x2="137.59" y2="604.5" stroke="#606060" stroke-width="0.8"/>
<line x1="200.48" y1="609.5" x2="201.78" y2="604.5" stroke="#606060" stroke-width="0.8"/>
<line x1="203.69" y1="609.5" x2="205" y2="604.5" stroke="#606060" stroke-width="0.8"/>
<line x1="234.83" y1="609.5" x2="236.13" y2="604.5" stroke="#606060" stroke-width="0.8"/>
<line x1="313.48" y1="609.5" x2="314.78" y2="604.5" stroke="#606060" stroke-width="0.8"/>
<line x1="321.5" y1="609.5" x2="322.8" y2="604.5" stroke="#606060" stroke-width="0.8"/>
<line x1="400.15" y1="609.5" x2="401.45" y2="604.5" stroke="#606060" stroke-width="0.8"/>
<line x1="498.69" y1="609.5" x2="499.99" y2="604.5" stroke="#606060" stroke-width="0.8"/>
<line x1="502.55" y1="609.5" x2="503.85" y2="604.5" stroke="#606060" stroke-width="0.8"/>
<line x1="509.93" y1="609.5" x2="511.23" y2="604.5" stroke="#606060" stroke-width="0.8"/>
<line x1="124.7" y1="621.9" x2="511.9" y2="621.9" stroke="#7a7a7a" stroke-width="0.7"/>
<line x1="125.05" y1="624.4" x2="126.35" y2="619.4" stroke="#606060" stroke-width="0.8"/>
<line x1="234.83" y1="624.4" x2="236.13" y2="619.4" stroke="#606060" stroke-width="0.8"/>
<line x1="400.15" y1="624.4" x2="401.45" y2="619.4" stroke="#606060" stroke-width="0.8"/>
<line x1="509.93" y1="624.4" x2="511.23" y2="619.4" stroke="#606060" stroke-width="0.8"/>
<line x1="124.7" y1="635.1" x2="511.9" y2="635.1" stroke="#7a7a7a" stroke-width="0.7"/>
<line x1="125.05" y1="637.6" x2="126.35" y2="632.6" stroke="#606060" stroke-width="0.8"/>
<line x1="509.93" y1="637.6" x2="511.23" y2="632.6" stroke="#606060" stroke-width="0.8"/>
<line x1="396.55" y1="637.6" x2="397.85" y2="632.6" stroke="#606060" stroke-width="0.8"/>
<text x="139.1" y="579.2" font-size="8.6" fill="#222" text-anchor="middle">84</text>
<text x="185" y="579.2" font-size="8.6" fill="#222" text-anchor="middle">200</text>
<text x="226.6" y="579.2" font-size="8.6" fill="#222" text-anchor="middle">59</text>
<text x="318.7" y="579.2" font-size="8.6" fill="#222" text-anchor="middle">515</text>
<text x="410.2" y="579.2" font-size="8.6" fill="#222" text-anchor="middle">59</text>
<text x="452.3" y="579.2" font-size="8.6" fill="#222" text-anchor="middle">200</text>
<text x="497.1" y="579.2" font-size="8.6" fill="#222" text-anchor="middle">84,</text>
<text x="120.4" y="590.9" font-size="8.6" fill="#222" text-anchor="middle">10,</text>
<text x="144.9" y="590.9" font-size="8.6" fill="#222" text-anchor="middle">49</text>
<text x="185" y="590.9" font-size="8.6" fill="#222" text-anchor="middle">200</text>
<text x="226.6" y="590.9" font-size="8.6" fill="#222" text-anchor="middle">59</text>
<text x="250" y="590.9" font-size="8.6" fill="#222" text-anchor="middle">25</text>
<text x="279.4" y="590.9" font-size="8.6" fill="#222" text-anchor="middle">220</text>
<text x="308.6" y="590.9" font-size="8.6" fill="#222" text-anchor="middle">25,</text>
<text x="357.7" y="590.9" font-size="8.6" fill="#222" text-anchor="middle">220</text>
<text x="405.9" y="590.9" font-size="8.6" fill="#222" text-anchor="middle">84</text>
<text x="452.3" y="590.9" font-size="8.6" fill="#222" text-anchor="middle">200</text>
<text x="491.9" y="590.9" font-size="8.6" fill="#222" text-anchor="middle">49</text>
<text x="517.5" y="590.9" font-size="8.6" fill="#222" text-anchor="middle">10</text>
<text x="120" y="605.5" font-size="8.6" fill="#222" text-anchor="middle">35,</text>
<text x="164.3" y="605.5" font-size="8.6" fill="#222" text-anchor="middle">200</text>
<text x="195.7" y="605.5" font-size="8.6" fill="#222" text-anchor="middle">10,</text>
<text x="220.2" y="605.5" font-size="8.6" fill="#222" text-anchor="middle">97</text>
<text x="270.2" y="605.5" font-size="8.6" fill="#222" text-anchor="middle">245</text>
<text x="308.6" y="605.5" font-size="8.6" fill="#222" text-anchor="middle">25,</text>
<text x="361.5" y="605.5" font-size="8.6" fill="#222" text-anchor="middle">245</text>
<text x="445.4" y="605.5" font-size="8.6" fill="#222" text-anchor="middle">307</text>
<text x="493.9" y="605.5" font-size="8.6" fill="#222" text-anchor="middle">35,</text>
<text x="180.8" y="620.4" font-size="8.6" fill="#222" text-anchor="middle">342</text>
<text x="318.7" y="620.4" font-size="8.6" fill="#222" text-anchor="middle">515</text>
<text x="456.1" y="620.4" font-size="8.6" fill="#222" text-anchor="middle">342</text>
<text x="318.7" y="633.6" font-size="8.6" fill="#222" text-anchor="middle">1.199</text>
<text x="132.7" y="583.8" font-size="8.6" fill="#222" text-anchor="middle">25</text>
<text x="503.7" y="583.8" font-size="8.6" fill="#222" text-anchor="middle">25</text>
<line x1="37.3" y1="124.5" x2="37.3" y2="540.5" stroke="#7a7a7a" stroke-width="0.7"/>
<line x1="34.8" y1="126.95" x2="39.8" y2="125.65" stroke="#606060" stroke-width="0.8"/>
<line x1="34.8" y1="539.92" x2="39.8" y2="538.62" stroke="#606060" stroke-width="0.8"/>
<line x1="51.6" y1="124.5" x2="51.6" y2="540.5" stroke="#7a7a7a" stroke-width="0.7"/>
<line x1="49.1" y1="126.95" x2="54.1" y2="125.65" stroke="#606060" stroke-width="0.8"/>
<line x1="49.1" y1="313.13" x2="54.1" y2="311.83" stroke="#606060" stroke-width="0.8"/>
<line x1="49.1" y1="539.92" x2="54.1" y2="538.62" stroke="#606060" stroke-width="0.8"/>
<line x1="65.5" y1="124.5" x2="65.5" y2="540.5" stroke="#7a7a7a" stroke-width="0.7"/>
<line x1="63" y1="126.95" x2="68" y2="125.65" stroke="#606060" stroke-width="0.8"/>
<line x1="63" y1="138.19" x2="68" y2="136.88" stroke="#606060" stroke-width="0.8"/>
<line x1="63" y1="253.75" x2="68" y2="252.44" stroke="#606060" stroke-width="0.8"/>
<line x1="63" y1="261.77" x2="68" y2="260.47" stroke="#606060" stroke-width="0.8"/>
<line x1="63" y1="301.89" x2="68" y2="300.6" stroke="#606060" stroke-width="0.8"/>
<line x1="63" y1="309.92" x2="68" y2="308.62" stroke="#606060" stroke-width="0.8"/>
<line x1="63" y1="347.8" x2="68" y2="346.5" stroke="#606060" stroke-width="0.8"/>
<line x1="63" y1="359.03" x2="68" y2="357.73" stroke="#606060" stroke-width="0.8"/>
<line x1="63" y1="528.84" x2="68" y2="527.54" stroke="#606060" stroke-width="0.8"/>
<line x1="63" y1="539.92" x2="68" y2="538.62" stroke="#606060" stroke-width="0.8"/>
<line x1="77.4" y1="124.5" x2="77.4" y2="540.5" stroke="#7a7a7a" stroke-width="0.7"/>
<line x1="74.9" y1="126.95" x2="79.9" y2="125.65" stroke="#606060" stroke-width="0.8"/>
<line x1="74.9" y1="130.16" x2="79.9" y2="128.86" stroke="#606060" stroke-width="0.8"/>
<line x1="74.9" y1="138.19" x2="79.9" y2="136.88" stroke="#606060" stroke-width="0.8"/>
<line x1="74.9" y1="227.74" x2="79.9" y2="226.44" stroke="#606060" stroke-width="0.8"/>
<line x1="74.9" y1="235.77" x2="79.9" y2="234.47" stroke="#606060" stroke-width="0.8"/>
<line x1="74.9" y1="253.75" x2="79.9" y2="252.44" stroke="#606060" stroke-width="0.8"/>
<line x1="74.9" y1="261.77" x2="79.9" y2="260.47" stroke="#606060" stroke-width="0.8"/>
<line x1="74.9" y1="301.89" x2="79.9" y2="300.6" stroke="#606060" stroke-width="0.8"/>
<line x1="74.9" y1="309.92" x2="79.9" y2="308.62" stroke="#606060" stroke-width="0.8"/>
<line x1="74.9" y1="347.8" x2="79.9" y2="346.5" stroke="#606060" stroke-width="0.8"/>
<line x1="74.9" y1="355.82" x2="79.9" y2="354.52" stroke="#606060" stroke-width="0.8"/>
<line x1="74.9" y1="432.54" x2="79.9" y2="431.24" stroke="#606060" stroke-width="0.8"/>
<line x1="74.9" y1="440.57" x2="79.9" y2="439.27" stroke="#606060" stroke-width="0.8"/>
<line x1="74.9" y1="539.92" x2="79.9" y2="538.62" stroke="#606060" stroke-width="0.8"/>
<line x1="89.9" y1="124.5" x2="89.9" y2="540.5" stroke="#7a7a7a" stroke-width="0.7"/>
<line x1="87.4" y1="126.95" x2="92.4" y2="125.65" stroke="#606060" stroke-width="0.8"/>
<line x1="87.4" y1="255.99" x2="92.4" y2="254.69" stroke="#606060" stroke-width="0.8"/>
<line x1="87.4" y1="288.09" x2="92.4" y2="286.79" stroke="#606060" stroke-width="0.8"/>
<line x1="87.4" y1="313.13" x2="92.4" y2="311.83" stroke="#606060" stroke-width="0.8"/>
<line x1="87.4" y1="539.92" x2="92.4" y2="538.62" stroke="#606060" stroke-width="0.8"/>
<text x="36" y="332.7" font-size="8.6" fill="#222" text-anchor="middle" transform="rotate(-90 36 332.7)">1.286</text>
<text x="50.3" y="219.7" font-size="8.6" fill="#222" text-anchor="middle" transform="rotate(-90 50.3 219.7)">580</text>
<text x="50.3" y="427.3" font-size="8.6" fill="#222" text-anchor="middle" transform="rotate(-90 50.3 427.3)">706</text>
<text x="64.2" y="143.6" font-size="8.6" fill="#222" text-anchor="middle" transform="rotate(-90 64.2 143.6)">35</text>
<text x="64.2" y="200.3" font-size="8.6" fill="#222" text-anchor="middle" transform="rotate(-90 64.2 200.3)">360</text>
<text x="64.2" y="266.8" font-size="8.6" fill="#222" text-anchor="middle" transform="rotate(-90 64.2 266.8)">25</text>
<text x="64.2" y="285.5" font-size="8.6" fill="#222" text-anchor="middle" transform="rotate(-90 64.2 285.5)">125</text>
<text x="64.2" y="315.4" font-size="8.6" fill="#222" text-anchor="middle" transform="rotate(-90 64.2 315.4)">25</text>
<text x="64.2" y="332" font-size="8.6" fill="#222" text-anchor="middle" transform="rotate(-90 64.2 332)">118</text>
<text x="64.2" y="366" font-size="8.6" fill="#222" text-anchor="middle" transform="rotate(-90 64.2 366)">35</text>
<text x="64.2" y="447.5" font-size="8.6" fill="#222" text-anchor="middle" transform="rotate(-90 64.2 447.5)">529</text>
<text x="64.2" y="546.3" font-size="8.6" fill="#222" text-anchor="middle" transform="rotate(-90 64.2 546.3)">35</text>
<text x="76.1" y="119.3" font-size="8.6" fill="#222" text-anchor="middle" transform="rotate(-90 76.1 119.3)">10</text>
<text x="76.1" y="143.6" font-size="8.6" fill="#222" text-anchor="middle" transform="rotate(-90 76.1 143.6)">25</text>
<text x="76.1" y="182" font-size="8.6" fill="#222" text-anchor="middle" transform="rotate(-90 76.1 182)">279</text>
<text x="76.1" y="221.5" font-size="8.6" fill="#222" text-anchor="middle" transform="rotate(-90 76.1 221.5)">25</text>
<text x="76.1" y="244.2" font-size="8.6" fill="#222" text-anchor="middle" transform="rotate(-90 76.1 244.2)">56</text>
<text x="76.1" y="266.8" font-size="8.6" fill="#222" text-anchor="middle" transform="rotate(-90 76.1 266.8)">25</text>
<text x="76.1" y="285.5" font-size="8.6" fill="#222" text-anchor="middle" transform="rotate(-90 76.1 285.5)">125</text>
<text x="76.1" y="315.4" font-size="8.6" fill="#222" text-anchor="middle" transform="rotate(-90 76.1 315.4)">25</text>
<text x="76.1" y="332" font-size="8.6" fill="#222" text-anchor="middle" transform="rotate(-90 76.1 332)">118</text>
<text x="76.1" y="361.5" font-size="8.6" fill="#222" text-anchor="middle" transform="rotate(-90 76.1 361.5)">25</text>
<text x="76.1" y="398.8" font-size="8.6" fill="#222" text-anchor="middle" transform="rotate(-90 76.1 398.8)">239</text>
<text x="76.1" y="445.7" font-size="8.6" fill="#222" text-anchor="middle" transform="rotate(-90 76.1 445.7)">25</text>
<text x="76.1" y="494.2" font-size="8.6" fill="#222" text-anchor="middle" transform="rotate(-90 76.1 494.2)">310</text>
<text x="88.6" y="191.5" font-size="8.6" fill="#222" text-anchor="middle" transform="rotate(-90 88.6 191.5)">402</text>
<text x="88.6" y="270.8" font-size="8.6" fill="#222" text-anchor="middle" transform="rotate(-90 88.6 270.8)">100</text>
<text x="88.6" y="299.3" font-size="8.6" fill="#222" text-anchor="middle" transform="rotate(-90 88.6 299.3)">78</text>
<text x="88.6" y="427.3" font-size="8.6" fill="#222" text-anchor="middle" transform="rotate(-90 88.6 427.3)">706</text>
<line x1="566" y1="124.5" x2="566" y2="540.5" stroke="#7a7a7a" stroke-width="0.7"/>
<line x1="563.5" y1="126.95" x2="568.5" y2="125.65" stroke="#606060" stroke-width="0.8"/>
<line x1="563.5" y1="255.99" x2="568.5" y2="254.69" stroke="#606060" stroke-width="0.8"/>
<line x1="563.5" y1="288.09" x2="568.5" y2="286.79" stroke="#606060" stroke-width="0.8"/>
<line x1="563.5" y1="440.25" x2="568.5" y2="438.95" stroke="#606060" stroke-width="0.8"/>
<line x1="563.5" y1="539.92" x2="568.5" y2="538.62" stroke="#606060" stroke-width="0.8"/>
<line x1="579.4" y1="124.5" x2="579.4" y2="540.5" stroke="#7a7a7a" stroke-width="0.7"/>
<line x1="576.9" y1="126.95" x2="581.9" y2="125.65" stroke="#606060" stroke-width="0.8"/>
<line x1="576.9" y1="130.16" x2="581.9" y2="128.86" stroke="#606060" stroke-width="0.8"/>
<line x1="576.9" y1="138.19" x2="581.9" y2="136.88" stroke="#606060" stroke-width="0.8"/>
<line x1="576.9" y1="227.74" x2="581.9" y2="226.44" stroke="#606060" stroke-width="0.8"/>
<line x1="576.9" y1="235.77" x2="581.9" y2="234.47" stroke="#606060" stroke-width="0.8"/>
<line x1="576.9" y1="253.75" x2="581.9" y2="252.44" stroke="#606060" stroke-width="0.8"/>
<line x1="576.9" y1="261.77" x2="581.9" y2="260.47" stroke="#606060" stroke-width="0.8"/>
<line x1="576.9" y1="301.89" x2="581.9" y2="300.6" stroke="#606060" stroke-width="0.8"/>
<line x1="576.9" y1="309.92" x2="581.9" y2="308.62" stroke="#606060" stroke-width="0.8"/>
<line x1="576.9" y1="355.82" x2="581.9" y2="354.52" stroke="#606060" stroke-width="0.8"/>
<line x1="576.9" y1="432.54" x2="581.9" y2="431.24" stroke="#606060" stroke-width="0.8"/>
<line x1="576.9" y1="440.57" x2="581.9" y2="439.27" stroke="#606060" stroke-width="0.8"/>
<line x1="576.9" y1="539.92" x2="581.9" y2="538.62" stroke="#606060" stroke-width="0.8"/>
<line x1="595.3" y1="124.5" x2="595.3" y2="540.5" stroke="#7a7a7a" stroke-width="0.7"/>
<line x1="592.8" y1="126.95" x2="597.8" y2="125.65" stroke="#606060" stroke-width="0.8"/>
<line x1="592.8" y1="138.19" x2="597.8" y2="136.88" stroke="#606060" stroke-width="0.8"/>
<line x1="592.8" y1="253.75" x2="597.8" y2="252.44" stroke="#606060" stroke-width="0.8"/>
<line x1="592.8" y1="261.77" x2="597.8" y2="260.47" stroke="#606060" stroke-width="0.8"/>
<line x1="592.8" y1="301.89" x2="597.8" y2="300.6" stroke="#606060" stroke-width="0.8"/>
<line x1="592.8" y1="313.13" x2="597.8" y2="311.83" stroke="#606060" stroke-width="0.8"/>
<line x1="592.8" y1="359.03" x2="597.8" y2="357.73" stroke="#606060" stroke-width="0.8"/>
<line x1="592.8" y1="528.84" x2="597.8" y2="527.54" stroke="#606060" stroke-width="0.8"/>
<line x1="592.8" y1="539.92" x2="597.8" y2="538.62" stroke="#606060" stroke-width="0.8"/>
<line x1="609.3" y1="124.5" x2="609.3" y2="540.5" stroke="#7a7a7a" stroke-width="0.7"/>
<line x1="606.8" y1="126.95" x2="611.8" y2="125.65" stroke="#606060" stroke-width="0.8"/>
<line x1="606.8" y1="440.57" x2="611.8" y2="439.27" stroke="#606060" stroke-width="0.8"/>
<line x1="606.8" y1="539.92" x2="611.8" y2="538.62" stroke="#606060" stroke-width="0.8"/>
<line x1="624.7" y1="124.5" x2="624.7" y2="540.5" stroke="#7a7a7a" stroke-width="0.7"/>
<line x1="622.2" y1="126.95" x2="627.2" y2="125.65" stroke="#606060" stroke-width="0.8"/>
<line x1="622.2" y1="539.92" x2="627.2" y2="538.62" stroke="#606060" stroke-width="0.8"/>
<text x="564.7" y="190.9" font-size="8.6" fill="#222" text-anchor="middle" transform="rotate(-90 564.7 190.9)">402</text>
<text x="564.7" y="271.2" font-size="8.6" fill="#222" text-anchor="middle" transform="rotate(-90 564.7 271.2)">100</text>
<text x="564.7" y="364.4" font-size="8.6" fill="#222" text-anchor="middle" transform="rotate(-90 564.7 364.4)">474</text>
<text x="564.7" y="489.6" font-size="8.6" fill="#222" text-anchor="middle" transform="rotate(-90 564.7 489.6)">310</text>
<text x="578.1" y="119.3" font-size="8.6" fill="#222" text-anchor="middle" transform="rotate(-90 578.1 119.3)">10</text>
<text x="578.1" y="143.6" font-size="8.6" fill="#222" text-anchor="middle" transform="rotate(-90 578.1 143.6)">25</text>
<text x="578.1" y="182.5" font-size="8.6" fill="#222" text-anchor="middle" transform="rotate(-90 578.1 182.5)">279</text>
<text x="578.1" y="220.9" font-size="8.6" fill="#222" text-anchor="middle" transform="rotate(-90 578.1 220.9)">25</text>
<text x="578.1" y="244.3" font-size="8.6" fill="#222" text-anchor="middle" transform="rotate(-90 578.1 244.3)">56</text>
<text x="578.1" y="267.3" font-size="8.6" fill="#222" text-anchor="middle" transform="rotate(-90 578.1 267.3)">25</text>
<text x="578.1" y="286.3" font-size="8.6" fill="#222" text-anchor="middle" transform="rotate(-90 578.1 286.3)">125</text>
<text x="578.1" y="315.6" font-size="8.6" fill="#222" text-anchor="middle" transform="rotate(-90 578.1 315.6)">25</text>
<text x="578.1" y="336.8" font-size="8.6" fill="#222" text-anchor="middle" transform="rotate(-90 578.1 336.8)">143</text>
<text x="578.1" y="393.8" font-size="8.6" fill="#222" text-anchor="middle" transform="rotate(-90 578.1 393.8)">239</text>
<text x="578.1" y="445.9" font-size="8.6" fill="#222" text-anchor="middle" transform="rotate(-90 578.1 445.9)">25</text>
<text x="578.1" y="494.5" font-size="8.6" fill="#222" text-anchor="middle" transform="rotate(-90 578.1 494.5)">310</text>
<text x="594" y="143.6" font-size="8.6" fill="#222" text-anchor="middle" transform="rotate(-90 594 143.6)">35</text>
<text x="594" y="200.2" font-size="8.6" fill="#222" text-anchor="middle" transform="rotate(-90 594 200.2)">360</text>
<text x="594" y="267.3" font-size="8.6" fill="#222" text-anchor="middle" transform="rotate(-90 594 267.3)">25</text>
<text x="594" y="286.3" font-size="8.6" fill="#222" text-anchor="middle" transform="rotate(-90 594 286.3)">125</text>
<text x="594" y="319" font-size="8.6" fill="#222" text-anchor="middle" transform="rotate(-90 594 319)">35</text>
<text x="594" y="339.8" font-size="8.6" fill="#222" text-anchor="middle" transform="rotate(-90 594 339.8)">143</text>
<text x="594" y="443.6" font-size="8.6" fill="#222" text-anchor="middle" transform="rotate(-90 594 443.6)">529</text>
<text x="594" y="546.4" font-size="8.6" fill="#222" text-anchor="middle" transform="rotate(-90 594 546.4)">35</text>
<text x="608" y="283.2" font-size="8.6" fill="#222" text-anchor="middle" transform="rotate(-90 608 283.2)">977</text>
<text x="608" y="489.6" font-size="8.6" fill="#222" text-anchor="middle" transform="rotate(-90 608 489.6)">310</text>
<text x="623.4" y="332.6" font-size="8.6" fill="#222" text-anchor="middle" transform="rotate(-90 623.4 332.6)">1.286</text>
<line x1="300.6" y1="264.3" x2="300.6" y2="315.7" stroke="#666" stroke-width="0.7"/>
<line x1="298.1" y1="264.95" x2="303.1" y2="263.65" stroke="#606060" stroke-width="0.8"/>
<line x1="298.1" y1="315.55" x2="303.1" y2="314.25" stroke="#606060" stroke-width="0.8"/>
<text x="299.2" y="288.3" font-size="8.6" fill="#222" text-anchor="middle" transform="rotate(-90 299.2 288.3)">150</text>
<line x1="133.3" y1="13.4" x2="133.3" y2="673.8" stroke="#484848" stroke-width="0.8" stroke-dasharray="3.6 2"/>
<line x1="239.4" y1="13.4" x2="239.4" y2="673.8" stroke="#484848" stroke-width="0.8" stroke-dasharray="3.6 2"/>
<line x1="318.15" y1="13.4" x2="318.15" y2="673.8" stroke="#484848" stroke-width="0.8" stroke-dasharray="3.6 2"/>
<line x1="396.9" y1="13.4" x2="396.9" y2="673.8" stroke="#484848" stroke-width="0.8" stroke-dasharray="3.6 2"/>
<line x1="503.5" y1="13.4" x2="503.5" y2="673.8" stroke="#484848" stroke-width="0.8" stroke-dasharray="3.6 2"/>
<line x1="0" y1="133.5" x2="656" y2="133.5" stroke="#484848" stroke-width="0.8" stroke-dasharray="3.6 2"/>
<line x1="0" y1="231.6" x2="656" y2="231.6" stroke="#484848" stroke-width="0.8" stroke-dasharray="3.6 2"/>
<line x1="0" y1="257.3" x2="656" y2="257.3" stroke="#484848" stroke-width="0.8" stroke-dasharray="3.6 2"/>
<line x1="0" y1="305.4" x2="656" y2="305.4" stroke="#484848" stroke-width="0.8" stroke-dasharray="3.6 2"/>
<line x1="0" y1="351" x2="656" y2="351" stroke="#484848" stroke-width="0.8" stroke-dasharray="3.6 2"/>
<line x1="0" y1="468" x2="656" y2="468" stroke="#484848" stroke-width="0.8" stroke-dasharray="3.6 2"/>
<line x1="0" y1="532.7" x2="656" y2="532.7" stroke="#484848" stroke-width="0.8" stroke-dasharray="3.6 2"/>
<line x1="185.5" y1="42" x2="185.5" y2="66" stroke="#333" stroke-width="0.9"/>
<line x1="185.5" y1="66" x2="185.5" y2="626" stroke="#333" stroke-width="0.8" stroke-dasharray="7 2 1.5 2"/>
<line x1="185.5" y1="624" x2="185.5" y2="645" stroke="#333" stroke-width="0.9"/>
<line x1="4" y1="279.5" x2="645" y2="279.5" stroke="#444" stroke-width="0.8" stroke-dasharray="7 2 1.5 2"/>
<line x1="137.4" y1="464" x2="499" y2="464" stroke="#999" stroke-width="0.6" stroke-dasharray="3 2"/>
<line x1="137.4" y1="471.8" x2="499" y2="471.8" stroke="#999" stroke-width="0.6" stroke-dasharray="3 2"/>
<rect x="234.2" y="423.5" width="29.5" height="59.1" fill="#6790cb"/>
<rect x="232.6" y="439" width="3.8" height="21.8" fill="#8c6c50"/>
<rect x="261.5" y="439" width="3.8" height="21.8" fill="#8c6c50"/>
<rect x="235.9" y="418" width="26.1" height="67.6" fill="url(#lg)" rx="0.8"/>
<rect x="235.9" y="418" width="26.1" height="2.6" fill="#2e5a99" rx="0.8"/>
<rect x="235.9" y="482.8" width="26.1" height="2.8" fill="#2e5a99" rx="0.8"/>
<line x1="236.3" y1="421.98" x2="261.6" y2="421.98" stroke="#4f7dbd" stroke-width="0.5"/>
<line x1="236.3" y1="425.95" x2="261.6" y2="425.95" stroke="#4f7dbd" stroke-width="0.5"/>
<line x1="236.3" y1="429.93" x2="261.6" y2="429.93" stroke="#4f7dbd" stroke-width="0.5"/>
<line x1="236.3" y1="433.91" x2="261.6" y2="433.91" stroke="#4f7dbd" stroke-width="0.5"/>
<line x1="236.3" y1="437.88" x2="261.6" y2="437.88" stroke="#4f7dbd" stroke-width="0.5"/>
<line x1="236.3" y1="441.86" x2="261.6" y2="441.86" stroke="#4f7dbd" stroke-width="0.5"/>
<line x1="236.3" y1="445.84" x2="261.6" y2="445.84" stroke="#4f7dbd" stroke-width="0.5"/>
<line x1="236.3" y1="449.81" x2="261.6" y2="449.81" stroke="#4f7dbd" stroke-width="0.5"/>
<line x1="236.3" y1="453.79" x2="261.6" y2="453.79" stroke="#4f7dbd" stroke-width="0.5"/>
<line x1="236.3" y1="457.76" x2="261.6" y2="457.76" stroke="#4f7dbd" stroke-width="0.5"/>
<line x1="236.3" y1="461.74" x2="261.6" y2="461.74" stroke="#4f7dbd" stroke-width="0.5"/>
<line x1="236.3" y1="465.72" x2="261.6" y2="465.72" stroke="#4f7dbd" stroke-width="0.5"/>
<line x1="236.3" y1="469.69" x2="261.6" y2="469.69" stroke="#4f7dbd" stroke-width="0.5"/>
<line x1="236.3" y1="473.67" x2="261.6" y2="473.67" stroke="#4f7dbd" stroke-width="0.5"/>
<line x1="236.3" y1="477.65" x2="261.6" y2="477.65" stroke="#4f7dbd" stroke-width="0.5"/>
<line x1="236.3" y1="481.62" x2="261.6" y2="481.62" stroke="#4f7dbd" stroke-width="0.5"/>
<rect x="281.4" y="424.6" width="29.2" height="59.3" fill="#6790cb"/>
<rect x="279.8" y="440.5" width="3.8" height="19.1" fill="#8c6c50"/>
<rect x="308.4" y="440.5" width="3.8" height="19.1" fill="#8c6c50"/>
<rect x="283.1" y="419.1" width="25.8" height="67.8" fill="url(#lg)" rx="0.8"/>
<rect x="283.1" y="419.1" width="25.8" height="2.6" fill="#2e5a99" rx="0.8"/>
<rect x="283.1" y="484.1" width="25.8" height="2.8" fill="#2e5a99" rx="0.8"/>
<line x1="283.5" y1="423.09" x2="308.5" y2="423.09" stroke="#4f7dbd" stroke-width="0.5"/>
<line x1="283.5" y1="427.08" x2="308.5" y2="427.08" stroke="#4f7dbd" stroke-width="0.5"/>
<line x1="283.5" y1="431.06" x2="308.5" y2="431.06" stroke="#4f7dbd" stroke-width="0.5"/>
<line x1="283.5" y1="435.05" x2="308.5" y2="435.05" stroke="#4f7dbd" stroke-width="0.5"/>
<line x1="283.5" y1="439.04" x2="308.5" y2="439.04" stroke="#4f7dbd" stroke-width="0.5"/>
<line x1="283.5" y1="443.03" x2="308.5" y2="443.03" stroke="#4f7dbd" stroke-width="0.5"/>
<line x1="283.5" y1="447.02" x2="308.5" y2="447.02" stroke="#4f7dbd" stroke-width="0.5"/>
<line x1="283.5" y1="451.01" x2="308.5" y2="451.01" stroke="#4f7dbd" stroke-width="0.5"/>
<line x1="283.5" y1="454.99" x2="308.5" y2="454.99" stroke="#4f7dbd" stroke-width="0.5"/>
<line x1="283.5" y1="458.98" x2="308.5" y2="458.98" stroke="#4f7dbd" stroke-width="0.5"/>
<line x1="283.5" y1="462.97" x2="308.5" y2="462.97" stroke="#4f7dbd" stroke-width="0.5"/>
<line x1="283.5" y1="466.96" x2="308.5" y2="466.96" stroke="#4f7dbd" stroke-width="0.5"/>
<line x1="283.5" y1="470.95" x2="308.5" y2="470.95" stroke="#4f7dbd" stroke-width="0.5"/>
<line x1="283.5" y1="474.94" x2="308.5" y2="474.94" stroke="#4f7dbd" stroke-width="0.5"/>
<line x1="283.5" y1="478.92" x2="308.5" y2="478.92" stroke="#4f7dbd" stroke-width="0.5"/>
<line x1="283.5" y1="482.91" x2="308.5" y2="482.91" stroke="#4f7dbd" stroke-width="0.5"/>
<rect x="328.3" y="425.2" width="29.5" height="59.6" fill="#6790cb"/>
<rect x="326.7" y="441.4" width="3.8" height="20.3" fill="#8c6c50"/>
<rect x="355.6" y="441.4" width="3.8" height="20.3" fill="#8c6c50"/>
<rect x="330" y="419.7" width="26.1" height="68.1" fill="url(#lg)" rx="0.8"/>
<rect x="330" y="419.7" width="26.1" height="2.6" fill="#2e5a99" rx="0.8"/>
<rect x="330" y="485" width="26.1" height="2.8" fill="#2e5a99" rx="0.8"/>
<line x1="330.4" y1="423.71" x2="355.7" y2="423.71" stroke="#4f7dbd" stroke-width="0.5"/>
<line x1="330.4" y1="427.71" x2="355.7" y2="427.71" stroke="#4f7dbd" stroke-width="0.5"/>
<line x1="330.4" y1="431.72" x2="355.7" y2="431.72" stroke="#4f7dbd" stroke-width="0.5"/>
<line x1="330.4" y1="435.72" x2="355.7" y2="435.72" stroke="#4f7dbd" stroke-width="0.5"/>
<line x1="330.4" y1="439.73" x2="355.7" y2="439.73" stroke="#4f7dbd" stroke-width="0.5"/>
<line x1="330.4" y1="443.74" x2="355.7" y2="443.74" stroke="#4f7dbd" stroke-width="0.5"/>
<line x1="330.4" y1="447.74" x2="355.7" y2="447.74" stroke="#4f7dbd" stroke-width="0.5"/>
<line x1="330.4" y1="451.75" x2="355.7" y2="451.75" stroke="#4f7dbd" stroke-width="0.5"/>
<line x1="330.4" y1="455.75" x2="355.7" y2="455.75" stroke="#4f7dbd" stroke-width="0.5"/>
<line x1="330.4" y1="459.76" x2="355.7" y2="459.76" stroke="#4f7dbd" stroke-width="0.5"/>
<line x1="330.4" y1="463.76" x2="355.7" y2="463.76" stroke="#4f7dbd" stroke-width="0.5"/>
<line x1="330.4" y1="467.77" x2="355.7" y2="467.77" stroke="#4f7dbd" stroke-width="0.5"/>
<line x1="330.4" y1="471.78" x2="355.7" y2="471.78" stroke="#4f7dbd" stroke-width="0.5"/>
<line x1="330.4" y1="475.78" x2="355.7" y2="475.78" stroke="#4f7dbd" stroke-width="0.5"/>
<line x1="330.4" y1="479.79" x2="355.7" y2="479.79" stroke="#4f7dbd" stroke-width="0.5"/>
<line x1="330.4" y1="483.79" x2="355.7" y2="483.79" stroke="#4f7dbd" stroke-width="0.5"/>
<rect x="368.3" y="425.2" width="29.5" height="60.1" fill="#6790cb"/>
<rect x="366.7" y="442" width="3.8" height="18.8" fill="#8c6c50"/>
<rect x="395.6" y="442" width="3.8" height="18.8" fill="#8c6c50"/>
<rect x="370" y="419.7" width="26.1" height="68.6" fill="url(#lg)" rx="0.8"/>
<rect x="370" y="419.7" width="26.1" height="2.6" fill="#2e5a99" rx="0.8"/>
<rect x="370" y="485.5" width="26.1" height="2.8" fill="#2e5a99" rx="0.8"/>
<line x1="370.4" y1="423.74" x2="395.7" y2="423.74" stroke="#4f7dbd" stroke-width="0.5"/>
<line x1="370.4" y1="427.77" x2="395.7" y2="427.77" stroke="#4f7dbd" stroke-width="0.5"/>
<line x1="370.4" y1="431.81" x2="395.7" y2="431.81" stroke="#4f7dbd" stroke-width="0.5"/>
<line x1="370.4" y1="435.84" x2="395.7" y2="435.84" stroke="#4f7dbd" stroke-width="0.5"/>
<line x1="370.4" y1="439.88" x2="395.7" y2="439.88" stroke="#4f7dbd" stroke-width="0.5"/>
<line x1="370.4" y1="443.91" x2="395.7" y2="443.91" stroke="#4f7dbd" stroke-width="0.5"/>
<line x1="370.4" y1="447.95" x2="395.7" y2="447.95" stroke="#4f7dbd" stroke-width="0.5"/>
<line x1="370.4" y1="451.98" x2="395.7" y2="451.98" stroke="#4f7dbd" stroke-width="0.5"/>
<line x1="370.4" y1="456.02" x2="395.7" y2="456.02" stroke="#4f7dbd" stroke-width="0.5"/>
<line x1="370.4" y1="460.05" x2="395.7" y2="460.05" stroke="#4f7dbd" stroke-width="0.5"/>
<line x1="370.4" y1="464.09" x2="395.7" y2="464.09" stroke="#4f7dbd" stroke-width="0.5"/>
<line x1="370.4" y1="468.12" x2="395.7" y2="468.12" stroke="#4f7dbd" stroke-width="0.5"/>
<line x1="370.4" y1="472.16" x2="395.7" y2="472.16" stroke="#4f7dbd" stroke-width="0.5"/>
<line x1="370.4" y1="476.19" x2="395.7" y2="476.19" stroke="#4f7dbd" stroke-width="0.5"/>
<line x1="370.4" y1="480.23" x2="395.7" y2="480.23" stroke="#4f7dbd" stroke-width="0.5"/>
<line x1="370.4" y1="484.26" x2="395.7" y2="484.26" stroke="#4f7dbd" stroke-width="0.5"/>
<line x1="220.7" y1="105" x2="220.7" y2="137.5" stroke="#555" stroke-width="0.7"/>
<circle cx="220.7" cy="100.4" r="4.8" fill="#fff" stroke="#444" stroke-width="0.8"/>
<text x="215.7" y="119.3" font-size="6.4" font-weight="bold" stroke="#222" stroke-width="0.22" fill="#222" text-anchor="middle" transform="rotate(90 215.7 119.3)" dominant-baseline="middle">140</text>
<text x="225.4" y="119.3" font-size="6.4" font-weight="bold" stroke="#222" stroke-width="0.22" fill="#222" text-anchor="middle" transform="rotate(90 225.4 119.3)" dominant-baseline="middle">100</text>
<text x="221.6" y="145.6" font-size="6.4" font-weight="bold" stroke="#222" stroke-width="0.22" fill="#222" text-anchor="middle">90</text>
<line x1="416.2" y1="105" x2="416.2" y2="137.5" stroke="#555" stroke-width="0.7"/>
<circle cx="416.2" cy="100.4" r="4.8" fill="#fff" stroke="#444" stroke-width="0.8"/>
<text x="411.2" y="119.3" font-size="6.4" font-weight="bold" stroke="#222" stroke-width="0.22" fill="#222" text-anchor="middle" transform="rotate(90 411.2 119.3)" dominant-baseline="middle">140</text>
<text x="420.9" y="119.3" font-size="6.4" font-weight="bold" stroke="#222" stroke-width="0.22" fill="#222" text-anchor="middle" transform="rotate(90 420.9 119.3)" dominant-baseline="middle">100</text>
<text x="417.1" y="145.6" font-size="6.4" font-weight="bold" stroke="#222" stroke-width="0.22" fill="#222" text-anchor="middle">90</text>
<line x1="222.6" y1="226" x2="222.6" y2="263.8" stroke="#555" stroke-width="0.7"/>
<circle cx="222.6" cy="221" r="4.9" fill="#fff" stroke="#444" stroke-width="0.8"/>
<text x="217" y="249.3" font-size="6.4" font-weight="bold" stroke="#222" stroke-width="0.22" fill="#222" text-anchor="middle" transform="rotate(90 217 249.3)" dominant-baseline="middle">210</text>
<text x="227.4" y="247.3" font-size="6.4" font-weight="bold" stroke="#222" stroke-width="0.22" fill="#222" text-anchor="middle" transform="rotate(90 227.4 247.3)" dominant-baseline="middle">90</text>
<line x1="414.2" y1="226" x2="414.2" y2="263.8" stroke="#555" stroke-width="0.7"/>
<circle cx="414.2" cy="221" r="4.9" fill="#fff" stroke="#444" stroke-width="0.8"/>
<text x="408.9" y="247.4" font-size="6.4" font-weight="bold" stroke="#222" stroke-width="0.22" fill="#222" text-anchor="middle" transform="rotate(-90 408.9 247.4)" dominant-baseline="middle">90</text>
<text x="419.1" y="249.1" font-size="6.4" font-weight="bold" stroke="#222" stroke-width="0.22" fill="#222" text-anchor="middle" transform="rotate(-90 419.1 249.1)" dominant-baseline="middle">210</text>
<circle cx="280.3" cy="279.6" r="4.7" fill="#fff" stroke="#444" stroke-width="0.8"/>
<circle cx="356.4" cy="280" r="4.7" fill="#fff" stroke="#444" stroke-width="0.8"/>
<text x="254.3" y="278.4" font-size="6.4" font-weight="bold" stroke="#222" stroke-width="0.22" fill="#222" text-anchor="middle">80</text>
<text x="252.1" y="287.7" font-size="6.4" font-weight="bold" stroke="#222" stroke-width="0.22" fill="#222" text-anchor="middle">210</text>
<text x="382.7" y="278.5" font-size="6.4" font-weight="bold" stroke="#222" stroke-width="0.22" fill="#222" text-anchor="middle">80</text>
<text x="384.5" y="288.6" font-size="6.4" font-weight="bold" stroke="#222" stroke-width="0.22" fill="#222" text-anchor="middle">210</text>
<line x1="104" y1="271.4" x2="137.4" y2="271.4" stroke="#444" stroke-width="0.8"/>
<circle cx="100.1" cy="271.3" r="4.9" fill="#fff" stroke="#444" stroke-width="0.8"/>
<text x="119" y="269.4" font-size="6.4" font-weight="bold" stroke="#222" stroke-width="0.22" fill="#222" text-anchor="middle">100</text>
<text x="119" y="279.1" font-size="6.4" font-weight="bold" stroke="#222" stroke-width="0.22" fill="#222" text-anchor="middle">230</text>
<line x1="499" y1="271.4" x2="532" y2="271.4" stroke="#444" stroke-width="0.8"/>
<circle cx="536.8" cy="271.2" r="4.9" fill="#fff" stroke="#444" stroke-width="0.8"/>
<text x="518.6" y="269.4" font-size="6.4" font-weight="bold" stroke="#222" stroke-width="0.22" fill="#222" text-anchor="middle">100</text>
<text x="518.6" y="279.1" font-size="6.4" font-weight="bold" stroke="#222" stroke-width="0.22" fill="#222" text-anchor="middle">230</text>
<line x1="185.1" y1="274" x2="185.1" y2="308.6" stroke="#555" stroke-width="0.7"/>
<circle cx="185.1" cy="269.5" r="4.7" fill="#fff" stroke="#444" stroke-width="0.8"/>
<text x="180" y="297.9" font-size="6.4" font-weight="bold" stroke="#222" stroke-width="0.22" fill="#222" text-anchor="middle" transform="rotate(90 180 297.9)" dominant-baseline="middle">219</text>
<text x="189.6" y="297.9" font-size="6.4" font-weight="bold" stroke="#222" stroke-width="0.22" fill="#222" text-anchor="middle" transform="rotate(90 189.6 297.9)" dominant-baseline="middle">200</text>
<line x1="452.2" y1="274" x2="452.2" y2="312" stroke="#555" stroke-width="0.7"/>
<circle cx="452.2" cy="269.4" r="4.7" fill="#fff" stroke="#444" stroke-width="0.8"/>
<text x="446.9" y="297.2" font-size="6.4" font-weight="bold" stroke="#222" stroke-width="0.22" fill="#222" text-anchor="middle" transform="rotate(90 446.9 297.2)" dominant-baseline="middle">219</text>
<text x="456.9" y="297.2" font-size="6.4" font-weight="bold" stroke="#222" stroke-width="0.22" fill="#222" text-anchor="middle" transform="rotate(90 456.9 297.2)" dominant-baseline="middle">200</text>
<ellipse cx="142.3" cy="270.9" rx="1.9" ry="1.4" fill="none" stroke="#222" stroke-width="1"/>
<ellipse cx="493.8" cy="272.9" rx="1.9" ry="1.4" fill="none" stroke="#222" stroke-width="1"/>
<text x="169.4" y="252.4" font-size="16.5" font-weight="bold" fill="#111" text-anchor="middle">S1</text>
<text x="433.8" y="287.1" font-size="16.5" font-weight="bold" fill="#111" text-anchor="middle">S2</text>
<text x="232.6" y="195.1" font-size="5.5" font-weight="bold" stroke="#2a2a2a" stroke-width="0.22" fill="#2a2a2a" text-anchor="middle">spavaca soba</text>
<text x="232.6" y="205" font-size="6.8" fill="#333" text-anchor="middle">13,03 m<tspan dy="-2.6" font-size="4.4">2</tspan></text>
<text x="404.5" y="195.1" font-size="5.5" font-weight="bold" stroke="#2a2a2a" stroke-width="0.22" fill="#2a2a2a" text-anchor="middle">spavaca soba</text>
<text x="404" y="205" font-size="6.8" fill="#333" text-anchor="middle">13,03 m<tspan dy="-2.6" font-size="4.4">2</tspan></text>
<text x="167.8" y="271" font-size="5.5" font-weight="bold" stroke="#2a2a2a" stroke-width="0.22" fill="#2a2a2a" text-anchor="middle">stubišni prostor</text>
<text x="167.9" y="279.8" font-size="6.8" fill="#333" text-anchor="middle">11,45 m<tspan dy="-2.6" font-size="4.4">2</tspan></text>
<text x="462.9" y="246.6" font-size="5.5" font-weight="bold" stroke="#2a2a2a" stroke-width="0.22" fill="#2a2a2a" text-anchor="middle">stubišni prostor</text>
<text x="462.9" y="256.1" font-size="6.8" fill="#333" text-anchor="middle">11,46 m<tspan dy="-2.6" font-size="4.4">2</tspan></text>
<text x="214" y="371.2" font-size="5.5" font-weight="bold" stroke="#2a2a2a" stroke-width="0.22" fill="#2a2a2a" text-anchor="middle">terasa</text>
<text x="214" y="381.6" font-size="6.8" fill="#333" text-anchor="middle">33,41 m<tspan dy="-2.6" font-size="4.4">2</tspan></text>
<text x="407.5" y="401.2" font-size="5.5" font-weight="bold" stroke="#2a2a2a" stroke-width="0.22" fill="#2a2a2a" text-anchor="middle">terasa</text>
<text x="407.5" y="411.4" font-size="6.8" fill="#333" text-anchor="middle">33,42 m<tspan dy="-2.6" font-size="4.4">2</tspan></text>
<text transform="translate(169.8,49.3) rotate(-90) scale(0.82,1)" x="0" y="0" font-size="15.8" font-weight="bold" fill="#111" stroke="#111" stroke-width="0.4" text-anchor="middle">A</text>
<path d="M175.2,47.2 L185.8,42.2 L185.8,52.2 Z" fill="#111"/>
<text transform="translate(169.8,639) rotate(-90) scale(0.82,1)" x="0" y="0" font-size="15.8" font-weight="bold" fill="#111" stroke="#111" stroke-width="0.4" text-anchor="middle">A</text>
<path d="M175.2,639.9 L185.8,634.9 L185.8,644.9 Z" fill="#111"/>
<path d="M638.1,279.3 L649,279.3 L643.5,288.9 Z" fill="#111"/>
<text transform="translate(641.4,305.3) scale(0.84,1)" x="0" y="0" font-size="14.9" font-weight="bold" fill="#111" stroke="#111" stroke-width="0.45" text-anchor="middle">B</text>
<path d="M-5.4,279.3 L5.4,279.3 L0,288.9 Z" fill="#111"/>
<text transform="translate(2.8,305.3) scale(0.84,1)" x="0" y="0" font-size="14.9" font-weight="bold" fill="#111" stroke="#111" stroke-width="0.45" text-anchor="middle">B</text>
<circle cx="133.3" cy="7.7" r="5.6" fill="#fff" stroke="#222" stroke-width="0.9"/>
<text x="133.3" y="10.65" font-size="8.2" font-weight="bold" fill="#111" text-anchor="middle">1</text>
<circle cx="133.3" cy="679.8" r="5.6" fill="#fff" stroke="#222" stroke-width="0.9"/>
<text x="133.3" y="682.75" font-size="8.2" font-weight="bold" fill="#111" text-anchor="middle">1</text>
<circle cx="239.4" cy="7.7" r="5.6" fill="#fff" stroke="#222" stroke-width="0.9"/>
<text x="239.4" y="10.65" font-size="8.2" font-weight="bold" fill="#111" text-anchor="middle">2</text>
<circle cx="239.4" cy="679.8" r="5.6" fill="#fff" stroke="#222" stroke-width="0.9"/>
<text x="239.4" y="682.75" font-size="8.2" font-weight="bold" fill="#111" text-anchor="middle">2</text>
<circle cx="318.15" cy="7.7" r="5.6" fill="#fff" stroke="#222" stroke-width="0.9"/>
<text x="318.15" y="10.65" font-size="8.2" font-weight="bold" fill="#111" text-anchor="middle">3</text>
<circle cx="318.15" cy="679.8" r="5.6" fill="#fff" stroke="#222" stroke-width="0.9"/>
<text x="318.15" y="682.75" font-size="8.2" font-weight="bold" fill="#111" text-anchor="middle">3</text>
<circle cx="396.9" cy="7.7" r="5.6" fill="#fff" stroke="#222" stroke-width="0.9"/>
<text x="396.9" y="10.65" font-size="8.2" font-weight="bold" fill="#111" text-anchor="middle">4</text>
<circle cx="396.9" cy="679.8" r="5.6" fill="#fff" stroke="#222" stroke-width="0.9"/>
<text x="396.9" y="682.75" font-size="8.2" font-weight="bold" fill="#111" text-anchor="middle">4</text>
<circle cx="503.5" cy="7.7" r="5.6" fill="#fff" stroke="#222" stroke-width="0.9"/>
<text x="503.5" y="10.65" font-size="8.2" font-weight="bold" fill="#111" text-anchor="middle">5</text>
<circle cx="503.5" cy="679.8" r="5.6" fill="#fff" stroke="#222" stroke-width="0.9"/>
<text x="503.5" y="682.75" font-size="8.2" font-weight="bold" fill="#111" text-anchor="middle">5</text>
</svg>
</body></html>
